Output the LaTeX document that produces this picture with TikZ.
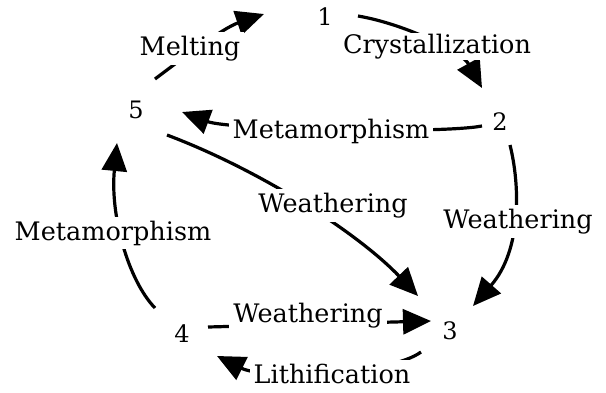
\documentclass[tikz,border=0pt]{standalone}
\usepackage{fontspec}
\setmainfont{DejaVu Serif}
\usetikzlibrary{arrows.meta,backgrounds}
\begin{document}
\begin{tikzpicture}[x=1pt,y=-1pt,
  lab/.style={anchor=base,fill=white,inner sep=4pt,font=\fontsize{25.5}{26}\selectfont},
  num/.style={anchor=base,inner sep=1pt,font=\fontsize{24}{25}\selectfont},
  conn/.style={line width=3.2pt,-{Triangle[length=28pt,width=25pt]}},
]
\useasboundingbox (0,0) rectangle (606,392);
% numbers
\node[num] (n1) at (325,25) {1};
\node[num] (n2) at (500,130) {2};
\node[num] (n3) at (450,339) {3};
\node[num] (n4) at (182,342) {4};
\node[num] (n5) at (136,118) {5};
% labels
\node[lab] (lMelt) at (190,55) {Melting};
\node[lab,inner sep=1pt] (lCry) at (437,53) {Crystallization};
\node[lab] (lMetA) at (331,138) {Metamorphism};
\node[lab] (lWA) at (333,212) {Weathering};
\node[lab] (lWB) at (518,228) {Weathering};
\node[lab] (lMetB) at (113,240) {Metamorphism};
\node[lab] (lWC) at (308,322) {Weathering};
\node[lab] (lLith) at (332,383) {Lithification};
% connector ends
\coordinate (s51) at (155,79);  \coordinate (e51) at (264,14);
\coordinate (s12) at (358,16);  \coordinate (e12) at (482,88);
\coordinate (s25) at (482,126); \coordinate (e25) at (182,112);
\coordinate (s53) at (167,135); \coordinate (e53) at (418,296);
\coordinate (s23) at (510,145); \coordinate (e23) at (473,306);
\coordinate (s45) at (155,308); \coordinate (e45) at (117,143);
\coordinate (s43) at (208,327); \coordinate (e43) at (431,321);
\coordinate (s34) at (421,352); \coordinate (e34) at (217,356);
\begin{scope}[on background layer]
\draw[conn] (s51) .. controls (180,60) and (223,28) .. (e51);
\draw[conn] (s12) .. controls (405,24) and (462,52) .. (e12);
\draw[conn] (s25) .. controls (440,134) and (230,130) .. (e25);
\draw[conn] (s53) .. controls (260,170) and (358,233) .. (e53);
\draw[conn] (s23) .. controls (520,185) and (522,250) .. (e23);
\draw[conn] (s45) .. controls (128,280) and (110,215) .. (e45);
\draw[conn] (s43) -- (e43);
\draw[conn] (s34) .. controls (390,375) and (265,380) .. (e34);
\end{scope}
\end{tikzpicture}
\end{document}
